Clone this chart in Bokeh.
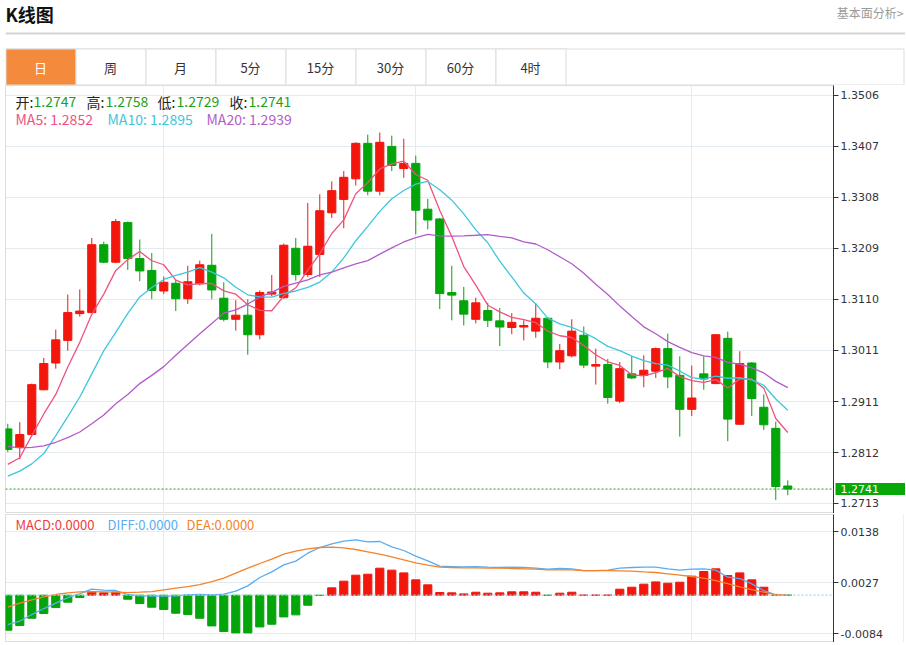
from bokeh.plotting import figure
from bokeh.models import Range1d, FixedTicker, PrintfTickFormatter, Span, Label, ColumnDataSource
from bokeh.layouts import column, row
from bokeh.embed import file_html
from bokeh.resources import INLINE
from bokeh.core.properties import value

# ---------------- data ----------------
opens = [
    1.2858, 1.2822, 1.2847, 1.2934, 1.2986, 1.3030, 1.3082, 1.3084, 1.3216, 1.3182,
    1.3259, 1.3189, 1.3166, 1.3126, 1.3141, 1.3111, 1.3140, 1.3176, 1.3112, 1.3071,
    1.3079, 1.3041, 1.3120, 1.3113, 1.3209, 1.3158, 1.3197, 1.3278, 1.3304, 1.3344,
    1.3413, 1.3320, 1.3407, 1.3364, 1.3374, 1.3285, 1.3266, 1.3123, 1.3107, 1.3071,
    1.3088, 1.3068, 1.3055, 1.3056, 1.3048, 1.3073, 1.2988, 1.3000, 1.3040, 1.2980,
    1.2983, 1.2912, 1.2965, 1.2962, 1.2970, 1.3014, 1.2962, 1.2896, 1.2965, 1.2946,
    1.3034, 1.2867, 1.2986, 1.2900, 1.2859, 1.2747]
highs = [
    1.2868, 1.2871, 1.2946, 1.2996, 1.3051, 1.3119, 1.3129, 1.3229, 1.3222, 1.3266,
    1.3261, 1.3226, 1.3200, 1.3154, 1.3148, 1.3175, 1.3185, 1.3237, 1.3143, 1.3108,
    1.3110, 1.3127, 1.3157, 1.3218, 1.3229, 1.3297, 1.3314, 1.3339, 1.3359, 1.3415,
    1.3430, 1.3434, 1.3428, 1.3422, 1.3389, 1.3305, 1.3268, 1.3175, 1.3134, 1.3113,
    1.3103, 1.3093, 1.3083, 1.3069, 1.3102, 1.3075, 1.3023, 1.3071, 1.3057, 1.3014,
    1.2994, 1.2988, 1.2999, 1.3001, 1.3016, 1.3043, 1.2999, 1.2981, 1.2999, 1.3042,
    1.3047, 1.3009, 1.2988, 1.2925, 1.2872, 1.2758]
lows = [
    1.2813, 1.2799, 1.2845, 1.2933, 1.2975, 1.3010, 1.3076, 1.3083, 1.3180, 1.3180,
    1.3167, 1.3145, 1.3110, 1.3120, 1.3087, 1.3101, 1.3137, 1.3110, 1.3067, 1.3049,
    1.3002, 1.3032, 1.3116, 1.3111, 1.3146, 1.3153, 1.3153, 1.3268, 1.3248, 1.3331,
    1.3312, 1.3312, 1.3359, 1.3346, 1.3236, 1.3246, 1.3091, 1.3069, 1.3059, 1.3063,
    1.3056, 1.3019, 1.3042, 1.3030, 1.3035, 1.2976, 1.2974, 1.2997, 1.2976, 1.2944,
    1.2907, 1.2908, 1.2955, 1.2939, 1.2957, 1.2937, 1.2843, 1.2883, 1.2934, 1.2945,
    1.2834, 1.2866, 1.2883, 1.2856, 1.2720, 1.2729]
closes = [
    1.2818, 1.2847, 1.2944, 1.2985, 1.3031, 1.3084, 1.3087, 1.3216, 1.3182, 1.3261,
    1.3189, 1.3165, 1.3127, 1.3143, 1.3111, 1.3144, 1.3177, 1.3128, 1.3071, 1.3079,
    1.3041, 1.3123, 1.3124, 1.3215, 1.3158, 1.3213, 1.3282, 1.3321, 1.3347, 1.3413,
    1.3320, 1.3415, 1.3370, 1.3374, 1.3283, 1.3264, 1.3121, 1.3118, 1.3081, 1.3103,
    1.3069, 1.3056, 1.3065, 1.3059, 1.3073, 1.2988, 1.3010, 1.3048, 1.2982, 1.2983,
    1.2919, 1.2975, 1.2957, 1.2972, 1.3014, 1.2959, 1.2896, 1.2918, 1.2955, 1.3041,
    1.2877, 1.2985, 1.2917, 1.2866, 1.2746, 1.2741]

# moving-average values before a full window exists
ma5_head = [1.2789, 1.2802, 1.2845, 1.2887]
ma10_head = [1.2766, 1.2776, 1.2790, 1.2810, 1.2845, 1.2882, 1.2920, 1.2965, 1.3010]
ma20_head = [1.2824, 1.2821, 1.2822, 1.2825, 1.2832, 1.2841, 1.2852, 1.2868, 1.2885, 1.2907,
             1.2925, 1.2946, 1.2962, 1.2979, 1.3001, 1.3022, 1.3043, 1.3063, 1.3083]

macd = [
    -0.00762, -0.00661, -0.00501, -0.00399, -0.00269, -0.00152, -0.00051, 0.00073, 0.00051, 0.00065,
    -0.00087, -0.00182, -0.00261, -0.00312, -0.00392, -0.00421, -0.00501, -0.00668, -0.00791, -0.00820,
    -0.00820, -0.00690, -0.00632, -0.00472, -0.00428, -0.00218, -0.00005, 0.00160, 0.00305, 0.00436,
    0.00457, 0.00588, 0.00545, 0.00486, 0.00334, 0.00225, 0.00058, 0.00051, 0.00029, 0.00065,
    0.00044, 0.00051, 0.00073, 0.00073, 0.00065, -0.00003, 0.00044, 0.00065, 0.00002, 0.00002,
    0.00002, 0.00131, 0.00174, 0.00240, 0.00290, 0.00261, 0.00283, 0.00414, 0.00515, 0.00574,
    0.00428, 0.00486, 0.00334, 0.00174, 0.0, 0.0]
diff = [
    -0.00639, -0.00566, -0.00421, -0.00290, -0.00174, -0.00051, 0.00036, 0.00131, 0.00109, 0.00102,
    0.00015, -0.00015, -0.00022, -0.00022, -0.00015, 0.00007, 0.00015, 0.00007, 0.00022, 0.00087,
    0.00203, 0.00385, 0.00508, 0.00661, 0.00741, 0.00915, 0.01038, 0.01118, 0.01176, 0.01205,
    0.01162, 0.01169, 0.01053, 0.00973, 0.00849, 0.00748, 0.00632, 0.00624, 0.00617, 0.00624,
    0.00610, 0.00603, 0.00610, 0.00603, 0.00588, 0.00566, 0.00581, 0.00574, 0.00537, 0.00537,
    0.00545, 0.00588, 0.00603, 0.00610, 0.00610, 0.00574, 0.00545, 0.00566, 0.00574, 0.00545,
    0.00392, 0.00363, 0.00247, 0.00102, 0.00007, 0.0]
dea = [
    -0.00261, -0.00174, -0.00102, -0.00036, 0.00015, 0.00051, 0.00073, 0.00080, 0.00073, 0.00065,
    0.00058, 0.00065, 0.00080, 0.00116, 0.00152, 0.00189, 0.00232, 0.00298, 0.00370, 0.00479,
    0.00588, 0.00690, 0.00784, 0.00893, 0.00958, 0.01009, 0.01038, 0.01045, 0.01031, 0.00995,
    0.00944, 0.00893, 0.00835, 0.00770, 0.00704, 0.00653, 0.00610, 0.00603, 0.00595, 0.00595,
    0.00588, 0.00588, 0.00581, 0.00574, 0.00566, 0.00552, 0.00552, 0.00552, 0.00537, 0.00537,
    0.00537, 0.00530, 0.00523, 0.00508, 0.00494, 0.00465, 0.00436, 0.00407, 0.00370, 0.00319,
    0.00254, 0.00182, 0.00123, 0.00065, 0.00015, 0.0]

price_ticks = [1.2713, 1.2812, 1.2911, 1.3011, 1.3110, 1.3209, 1.3308, 1.3407, 1.3506]
macd_ticks = [-0.0084, 0.0027, 0.0138]
month_ticks = [13, 34, 57]
tabs = ["日", "周", "月", "5分", "15分", "30分", "60分", "4时"]
ohlc_names = ["开:", "高:", "低:", "收:"]
ma_names = ["MA5: ", "MA10: ", "MA20: "]
ma_last = [1.2852, 1.2895, 1.2939]
macd_names = ["MACD:", "DIFF:", "DEA:"]
macd_last = [0.0, 0.0, 0.0]

# ---------------- derived ----------------
n = len(closes)
idx = list(range(n))


def rolling(vals, w, head):
    out = list(head)
    for i in range(w - 1, len(vals)):
        out.append(sum(vals[i - w + 1:i + 1]) / w)
    return out


ma5 = rolling(closes, 5, ma5_head)
ma10 = rolling(closes, 10, ma10_head)
ma20 = rolling(closes, 20, ma20_head)

# ---------------- styling / layout ----------------
RED = "#f2160c"
GREEN = "#04a40b"
MA5C = "#f0527e"
MA10C = "#3ec6dc"
MA20C = "#b35cc8"
DIFFC = "#58adf2"
DEAC = "#f5832b"
GRID = "#e4ebf0"
BORDER = "#dddddd"
TXTGREEN = "#1ea01e"
FONT_NAME = "Noto Sans CJK SC"
FONT = value(FONT_NAME)
AXFONT = "DejaVu Sans"

LEFT = 5
FRAME_W = 828
AXIS_W = 70
CHART_W = LEFT + FRAME_W + AXIS_W      # right border line sits just after this
HDR_FRAME_W = 900
HEADER_H = 85
MAIN_H = 428
MACD_H = 128

PX_PER_BAR = 12.0
X0 = -0.19
X1 = X0 + FRAME_W / PX_PER_BAR
PPY = 0.00019436
Y1 = 1.35254
Y0 = Y1 - MAIN_H * PPY
MPPY = 0.00021765
M1 = 0.017566
M0 = M1 - MACD_H * MPPY

# ---------------- header (title + tabs), in page pixels ----------------
hdr = figure(frame_width=HDR_FRAME_W, frame_height=HEADER_H,
             x_range=Range1d(LEFT, LEFT + HDR_FRAME_W), y_range=Range1d(HEADER_H, 0),
             toolbar_location=None, output_backend="svg", x_axis_location=None,
             y_axis_location=None, min_border_left=LEFT, min_border_right=0,
             min_border_top=0, min_border_bottom=0, outline_line_color=None)
hdr.grid.visible = False
hdr.text(x=[LEFT], y=[13], text=["K线图"], text_font=FONT, text_font_style="bold",
         text_font_size="18px", text_baseline="middle", text_color="#111111")
hdr.text(x=[CHART_W], y=[12], text=["基本面分析>"], text_font=FONT, text_font_size="12px",
         text_baseline="middle", text_align="right", text_color="#9a9a9a")
hdr.segment(x0=[LEFT], y0=[33], x1=[LEFT + HDR_FRAME_W], y1=[33], line_color="#d4d4d4",
            line_width=2)
hdr.quad(left=[LEFT + 0.5], right=[CHART_W + 0.5], top=[48.5], bottom=[84.5],
         fill_color="white", line_color=BORDER)
tab_w = 70
hdr.quad(left=[LEFT + tab_w * i + 0.5 for i in range(len(tabs))],
         right=[LEFT + tab_w * (i + 1) + 0.5 for i in range(len(tabs))],
         top=[48.5] * len(tabs), bottom=[84.5] * len(tabs),
         fill_color=["#f48b3c"] + ["white"] * (len(tabs) - 1), line_color=BORDER)
hdr.text(x=[LEFT + tab_w * i + tab_w / 2 for i in range(len(tabs))], y=[67] * len(tabs),
         text=tabs, text_font=FONT, text_font_size="13px", text_align="center",
         text_baseline="middle", text_color=["white"] + ["#333333"] * (len(tabs) - 1))


def style_yaxis(fig, ticks):
    ax = fig.yaxis[0]
    ax.ticker = FixedTicker(ticks=ticks)
    ax.formatter = PrintfTickFormatter(format="%.4f")
    ax.major_tick_out = 5
    ax.major_tick_in = 0
    ax.minor_tick_line_color = None
    ax.axis_line_color = "#333333"
    ax.major_tick_line_color = "#333333"
    ax.major_label_text_font = AXFONT
    ax.major_label_text_font_size = "11px"
    ax.major_label_text_color = "#333333"
    ax.major_label_standoff = 2
    fig.ygrid.ticker = FixedTicker(ticks=ticks)
    fig.ygrid.grid_line_color = GRID
    fig.xgrid.ticker = FixedTicker(ticks=month_ticks)
    fig.xgrid.grid_line_color = GRID


# ---------------- main candlestick panel ----------------
p = figure(frame_width=FRAME_W, frame_height=MAIN_H, x_range=Range1d(X0, X1),
           y_range=Range1d(Y0, Y1), toolbar_location=None, output_backend="svg",
           x_axis_location=None, y_axis_location="right", min_border_left=LEFT,
           min_border_top=0, min_border_bottom=0, min_border_right=AXIS_W,
           outline_line_color=BORDER, background_fill_color="white")
style_yaxis(p, price_ticks)

src = ColumnDataSource(dict(
    x=idx, high=highs, low=lows,
    top=[max(o, c) for o, c in zip(opens, closes)],
    bottom=[min(o, c) for o, c in zip(opens, closes)],
    color=[RED if c > o else GREEN for o, c in zip(opens, closes)]))
p.segment(x0="x", y0="high", x1="x", y1="low", line_color="color", line_width=1, source=src)
p.vbar(x="x", width=0.68, top="top", bottom="bottom", fill_color="color", line_color="color",
       line_width=1, source=src)
p.line(idx, ma5, line_color=MA5C, line_width=1.3)
p.line(idx, ma10, line_color=MA10C, line_width=1.3)
p.line(idx, ma20, line_color=MA20C, line_width=1.3)
p.add_layout(Span(location=closes[-1], dimension="width", line_color="#1e9e1e",
                  line_dash="2 2", line_width=1))
# last price tag sits on the price axis (side panel, so it is not clipped to the frame)
p.add_layout(Label(x=X1, y=closes[-1], x_offset=2, text=f"{closes[-1]:.4f}", text_color="white",
                   text_font=AXFONT, text_font_size="11px", text_baseline="middle",
                   background_fill_color="#08a808",
                   padding=dict(left=5, right=26, top=2, bottom=2)), "right")


def fx(px):
    return X0 + px / PX_PER_BAR


def fy(py):
    return Y1 - py * PPY


last_ohlc = [opens[-1], highs[-1], lows[-1], closes[-1]]
name_x = [10, 81, 152, 224]
val_x = [28, 100, 171, 243]
for nm, v, nx, vx in zip(ohlc_names, last_ohlc, name_x, val_x):
    p.add_layout(Label(x=fx(nx), y=fy(16), text=nm, text_font=FONT_NAME, text_font_size="14px",
                       text_baseline="middle", text_color="#222222"))
    p.add_layout(Label(x=fx(vx), y=fy(16), text=f"{v:.4f}", text_font=FONT_NAME,
                       text_font_size="14px", text_baseline="middle", text_color=TXTGREEN))
for nm, v, xx, col in zip(ma_names, ma_last, [10, 102, 201], [MA5C, MA10C, MA20C]):
    p.add_layout(Label(x=fx(xx), y=fy(33), text=f"{nm}{v:.4f}", text_font=FONT_NAME,
                       text_font_size="14px", text_baseline="middle", text_color=col))

# ---------------- MACD panel ----------------
m = figure(frame_width=FRAME_W, frame_height=MACD_H, x_range=p.x_range, y_range=Range1d(M0, M1),
           toolbar_location=None, output_backend="svg", x_axis_location=None,
           y_axis_location="right", min_border_left=LEFT, min_border_top=0, min_border_bottom=0,
           min_border_right=AXIS_W, outline_line_color=BORDER)
style_yaxis(m, macd_ticks)
m.add_layout(Span(location=0, dimension="width", line_color="#a8d4ec", line_dash="2 2",
                  line_width=1.2))
m.vbar(x=idx, width=0.68, top=macd, bottom=0,
       fill_color=[RED if v > 0 else GREEN for v in macd],
       line_color=[RED if v > 0 else GREEN for v in macd], line_width=1)
m.line(idx, diff, line_color=DIFFC, line_width=1.3)
m.line(idx, dea, line_color=DEAC, line_width=1.3)


def mfy(py):
    return M1 - py * MPPY


for nm, v, xx, col in zip(macd_names, macd_last, [10, 102, 181], ["#f03c3c", DIFFC, DEAC]):
    m.add_layout(Label(x=fx(xx), y=mfy(10), text=f"{nm}{v:.4f}", text_font=FONT_NAME,
                       text_font_size="13px", text_baseline="middle", text_color=col))


def bar(width, height, color, left=0):
    s = figure(frame_width=width, frame_height=height, toolbar_location=None,
               output_backend="svg", x_axis_location=None, y_axis_location=None,
               min_border_left=left, min_border_right=0, min_border_top=0, min_border_bottom=0,
               outline_line_color=None, background_fill_color=color, border_fill_color="white")
    s.grid.visible = False
    return s


layout = column(
    hdr,
    row(p, bar(1, MAIN_H, BORDER), spacing=0),
    bar(CHART_W + 1 - LEFT, 1, "#222222", LEFT),
    row(m, bar(1, MACD_H, BORDER), spacing=0),
    bar(CHART_W + 1 - LEFT, 1, "#222222", LEFT),
    spacing=0)
open("out.html", "w").write(file_html(layout, INLINE))
